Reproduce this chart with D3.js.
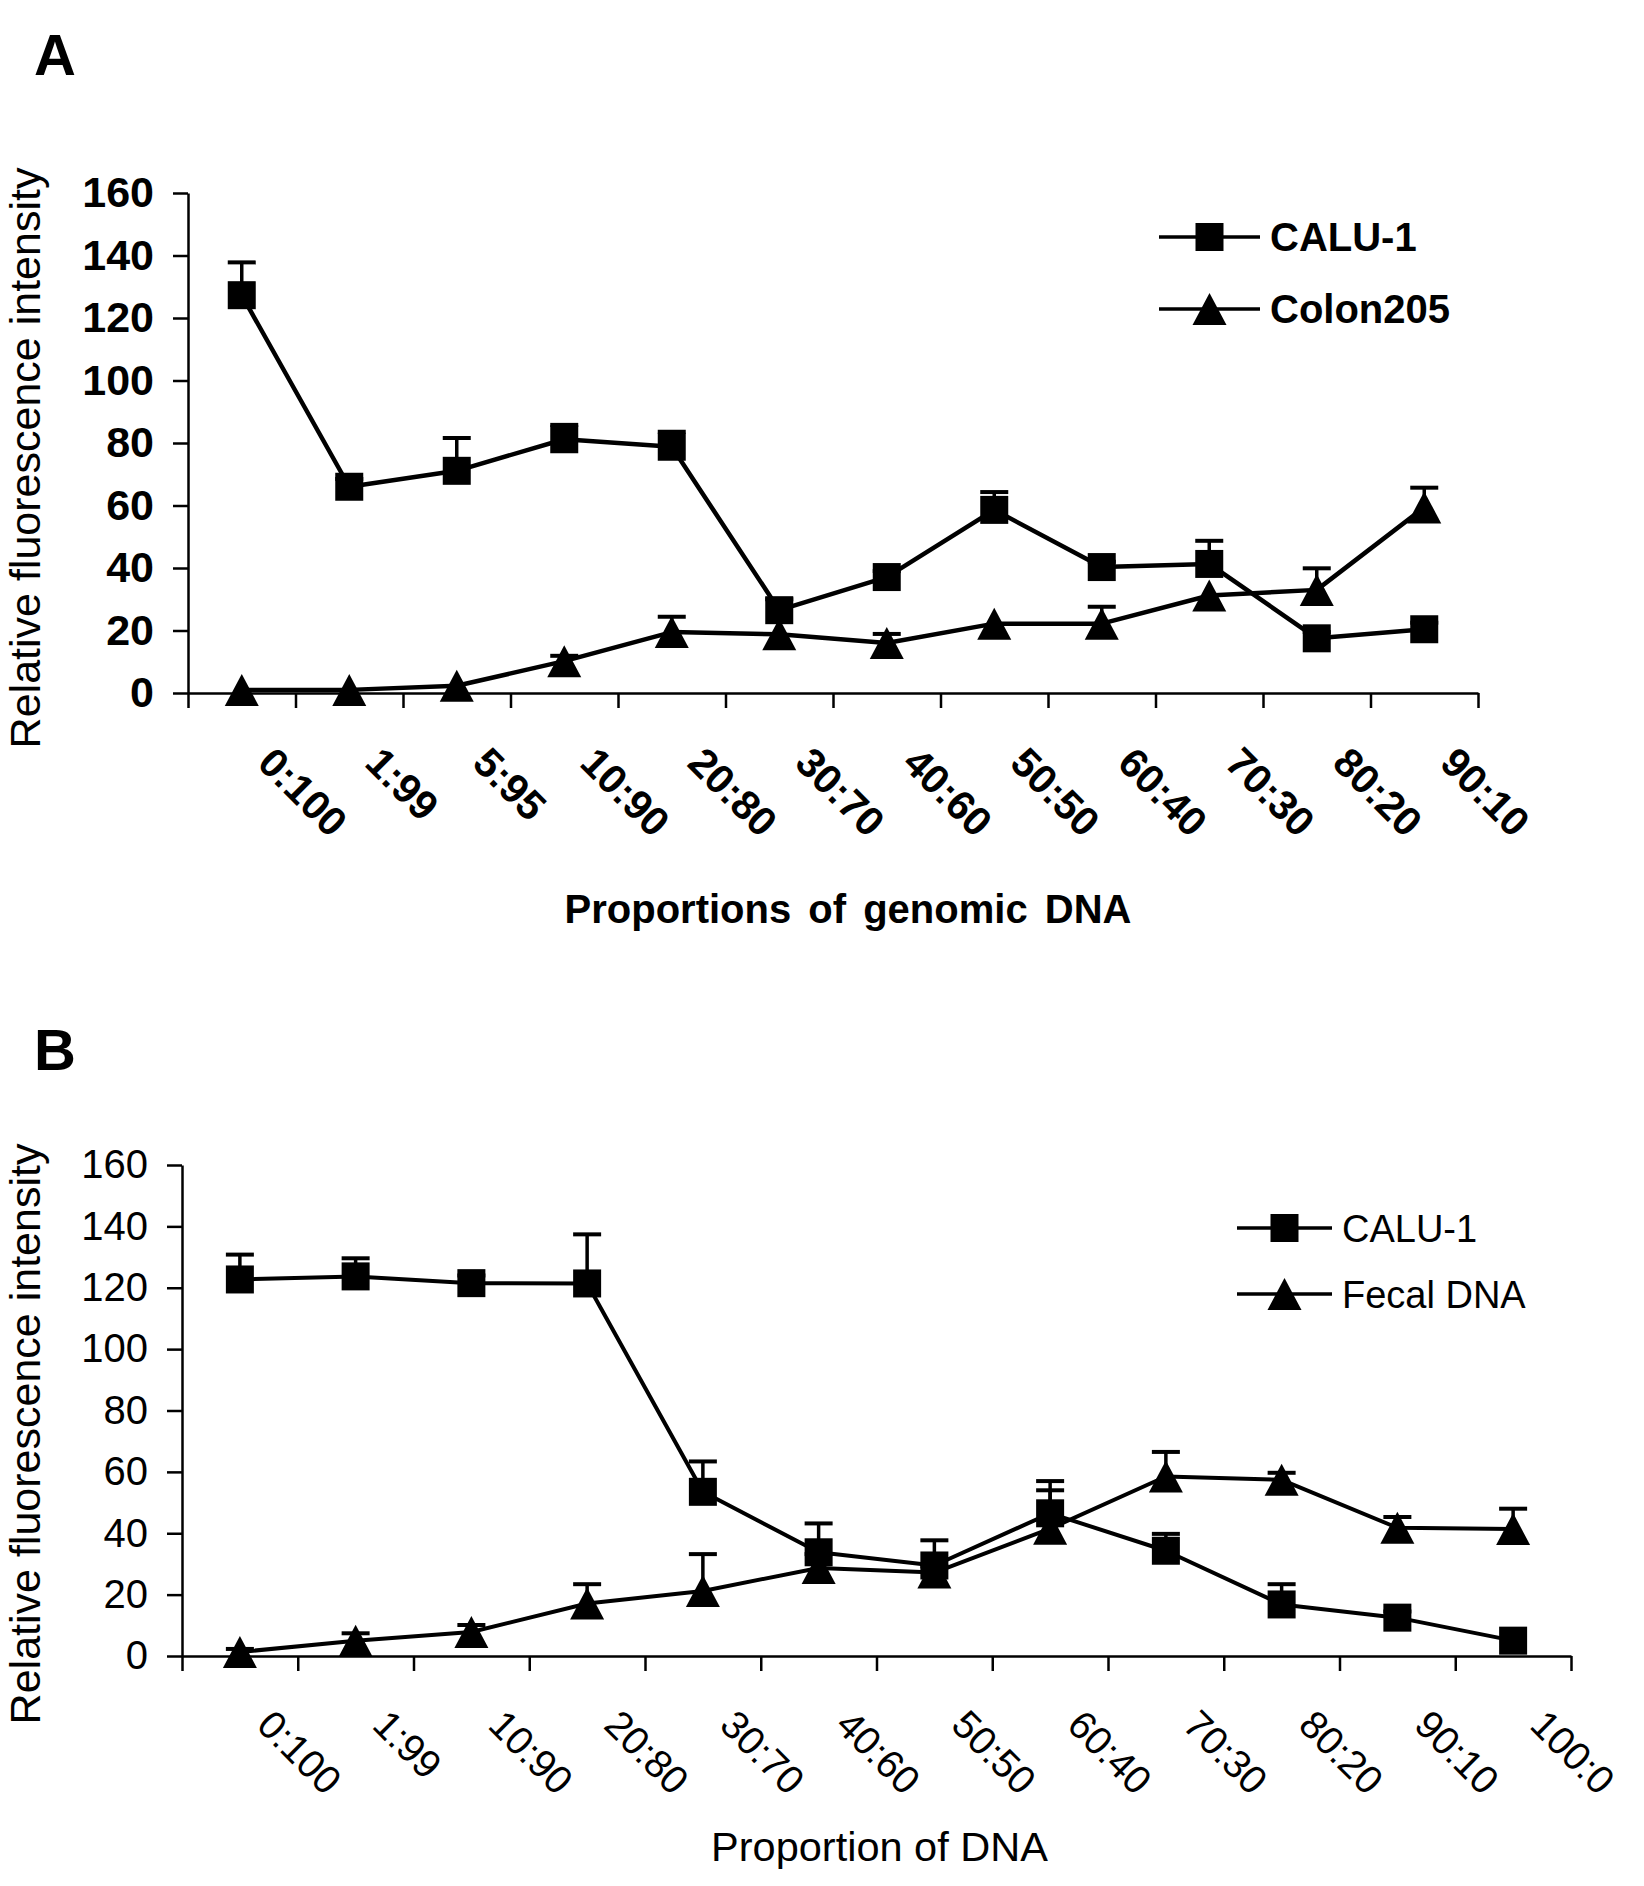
<!DOCTYPE html>
<html>
<head>
<meta charset="utf-8">
<script src="https://cdn.jsdelivr.net/npm/d3@7/dist/d3.min.js"></script>
<style>
  html, body { margin: 0; padding: 0; background: #fff; }
  svg { display: block; font-family: "Liberation Sans", Arial, sans-serif; }
</style>
</head>
<body>
<div id="chart"></div>
<script>
// Two panels: fluorescence vs DNA mixing proportions (A: cell lines, B: fecal DNA)

const yTicks = [0, 20, 40, 60, 80, 100, 120, 140, 160];

// Panel A
const catsA = ["0:100", "1:99", "5:95", "10:90", "20:80", "30:70",
               "40:60", "50:50", "60:40", "70:30", "80:20", "90:10"];
const caluA = [127.3, 66, 71.1, 81.2, 78.8, 26.5, 37.1, 58.6, 40.3, 41.3, 17.5, 20.4];
const caluAErr = [10.5, 2.5, 10.5, 4.6, 4.8, 3.5, 1.9, 5.7, 1.7, 7.4, 2, 2.1];
const colonA = [1, 1, 2.3, 10.2, 19.5, 18.8, 16, 22.2, 22.2, 31.2, 33, 59.4];
const colonAErr = [0, 0, 0, 1.7, 4.9, 0, 2.9, 0, 5.4, 0, 6.9, 6.3];

// Panel B
const catsB = ["0:100", "1:99", "10:90", "20:80", "30:70", "40:60",
               "50:50", "60:40", "70:30", "80:20", "90:10", "100:0"];
const caluB = [122.7, 123.7, 121.5, 121.4, 53.5, 33.8, 29.5, 46.5, 34.3, 16.8, 12.5, 5.0];
const caluBErr = [8.1, 5.9, 2.5, 16, 9.9, 9.4, 8.2, 10.5, 5.5, 6.6, 2, 0];
const fecalB = [1.3, 5, 7.8, 17.1, 21.2, 28.7, 27.2, 41.5, 58.5, 57.4, 41.8, 41.4];
const fecalBErr = [1, 2.4, 2.3, 6.3, 12, 4.5, 2, 12.5, 8, 2.3, 3.5, 6.6];

const W = 1644, H = 1886;

const svg = d3.select("#chart").append("svg")
    .attr("width", W).attr("height", H)
    .attr("viewBox", `0 0 ${W} ${H}`);

// Box-centred triangle, like the spreadsheet marker
function triangleType(w, h) {
    return {
        draw(ctx) {
            ctx.moveTo(0, -h / 2);
            ctx.lineTo(w / 2, h / 2);
            ctx.lineTo(-w / 2, h / 2);
            ctx.closePath();
        }
    };
}

function drawPanel(cfg) {
    const g = svg.append("g");
    const n = cfg.cats.length;

    const x = d3.scaleBand().domain(cfg.cats).range([cfg.x0, cfg.x1]);
    const xc = (i) => x(cfg.cats[i]) + x.bandwidth() / 2;
    const edge = d3.scaleLinear().domain([0, n]).range([cfg.x0, cfg.x1]);
    const y = d3.scaleLinear().domain([0, 160]).range([cfg.yBottom, cfg.yTop]);

    // Panel letter
    g.append("text")
        .attr("x", cfg.letterX).attr("y", cfg.letterY)
        .attr("font-size", 58).attr("font-weight", "bold")
        .text(cfg.letter);

    // Y axis
    const yAxis = g.append("g")
        .attr("transform", `translate(${cfg.x0},0)`)
        .call(d3.axisLeft(y).tickValues(yTicks).tickSize(15)
            .tickSizeOuter(0).tickPadding(19));
    yAxis.attr("font-family", null).attr("font-size", null);
    yAxis.selectAll("text")
        .attr("font-size", cfg.yTickSize)
        .attr("font-weight", cfg.bold ? "bold" : "normal")
        .attr("fill", "#000");
    yAxis.selectAll("line, path").attr("stroke", "#000").attr("stroke-width", 2.5);

    // X axis: tick marks at category edges
    const xAxis = g.append("g")
        .attr("transform", `translate(0,${cfg.yBottom})`)
        .call(d3.axisBottom(edge).tickValues(d3.range(n + 1))
            .tickSize(15).tickSizeOuter(0).tickFormat(""));
    xAxis.selectAll("line, path").attr("stroke", "#000").attr("stroke-width", 2.5);

    // X labels, rotated
    g.append("g").selectAll("text")
        .data(cfg.cats)
        .join("text")
        .attr("transform", (d, i) =>
            `translate(${xc(i) + cfg.lblDx},${cfg.yBottom + cfg.lblDy}) rotate(45)`)
        .attr("font-size", cfg.xTickSize)
        .attr("font-weight", cfg.bold ? "bold" : "normal")
        .text((d) => d);

    // Axis titles
    g.append("text")
        .attr("transform", `translate(${cfg.yTitleX},${cfg.yTitleY}) rotate(-90)`)
        .attr("text-anchor", "middle")
        .attr("font-size", 43)
        .text("Relative fluorescence intensity");

    g.append("text")
        .attr("x", (cfg.x0 + cfg.x1) / 2 + cfg.xTitleDx)
        .attr("y", cfg.xTitleY)
        .attr("text-anchor", "middle")
        .attr("font-size", cfg.xTitleSize)
        .attr("font-weight", cfg.bold ? "bold" : "normal")
        .attr("word-spacing", cfg.bold ? 6 : 0)
        .text(cfg.xTitle);

    const line = d3.line().x((d, i) => xc(i)).y((d) => y(d));
    const sq = d3.symbol().type(d3.symbolSquare).size(28 * 28)();
    const tri = d3.symbol().type(triangleType(34, 32))();

    cfg.series.forEach((s) => {
        g.append("path")
            .datum(s.values)
            .attr("fill", "none")
            .attr("stroke", "#000")
            .attr("stroke-width", cfg.lineW)
            .attr("stroke-linejoin", "round")
            .attr("d", line);

        // error bars (upper only)
        const eb = g.append("g").attr("stroke", "#000");
        s.values.forEach((v, i) => {
            const e = s.err[i];
            if (!e) return;
            eb.append("line")
                .attr("x1", xc(i)).attr("x2", xc(i))
                .attr("y1", y(v)).attr("y2", y(v + e))
                .attr("stroke-width", 3.5);
            eb.append("line")
                .attr("x1", xc(i) - 14).attr("x2", xc(i) + 14)
                .attr("y1", y(v + e)).attr("y2", y(v + e))
                .attr("stroke-width", 4);
        });

        g.append("g").selectAll("path")
            .data(s.values)
            .join("path")
            .attr("transform", (d, i) => `translate(${xc(i)},${y(d)})`)
            .attr("d", s.marker === "square" ? sq : tri)
            .attr("fill", "#000");
    });

    // Legend
    const leg = g.append("g");
    cfg.series.forEach((s, k) => {
        const ly = cfg.legY + k * cfg.legGap;
        leg.append("line")
            .attr("x1", cfg.legX0).attr("x2", cfg.legX1)
            .attr("y1", ly).attr("y2", ly)
            .attr("stroke", "#000").attr("stroke-width", 3.5);
        leg.append("path")
            .attr("transform", `translate(${(cfg.legX0 + cfg.legX1) / 2},${ly})`)
            .attr("d", s.marker === "square" ? sq : tri)
            .attr("fill", "#000");
        leg.append("text")
            .attr("x", cfg.legX1 + 10).attr("y", ly)
            .attr("dy", "0.36em")
            .attr("font-size", cfg.legSize)
            .attr("font-weight", cfg.bold ? "bold" : "normal")
            .text(s.name);
    });
}

drawPanel({
    letter: "A", letterX: 34, letterY: 75,
    cats: catsA, bold: true,
    x0: 188, x1: 1478, yBottom: 693, yTop: 193,
    yTickSize: 43, xTickSize: 41, lblDx: 14, lblDy: 72,
    yTitleX: 40, yTitleY: 458,
    xTitle: "Proportions of genomic DNA", xTitleSize: 40, xTitleDx: 15, xTitleY: 923,
    lineW: 4.5,
    legX0: 1159, legX1: 1260, legY: 237, legGap: 72, legSize: 40,
    series: [
        { name: "CALU-1", values: caluA, err: caluAErr, marker: "square" },
        { name: "Colon205", values: colonA, err: colonAErr, marker: "triangle" },
    ],
});

drawPanel({
    letter: "B", letterX: 34, letterY: 1070,
    cats: catsB, bold: false,
    x0: 182, x1: 1571, yBottom: 1656, yTop: 1165,
    yTickSize: 40, xTickSize: 39.5, lblDx: 15, lblDy: 71,
    yTitleX: 40, yTitleY: 1434,
    xTitle: "Proportion of DNA", xTitleSize: 41.5, xTitleDx: 3, xTitleY: 1861,
    lineW: 4,
    legX0: 1237, legX1: 1332, legY: 1228, legGap: 66, legSize: 38,
    series: [
        { name: "CALU-1", values: caluB, err: caluBErr, marker: "square" },
        { name: "Fecal DNA", values: fecalB, err: fecalBErr, marker: "triangle" },
    ],
});
</script>
</body>
</html>
